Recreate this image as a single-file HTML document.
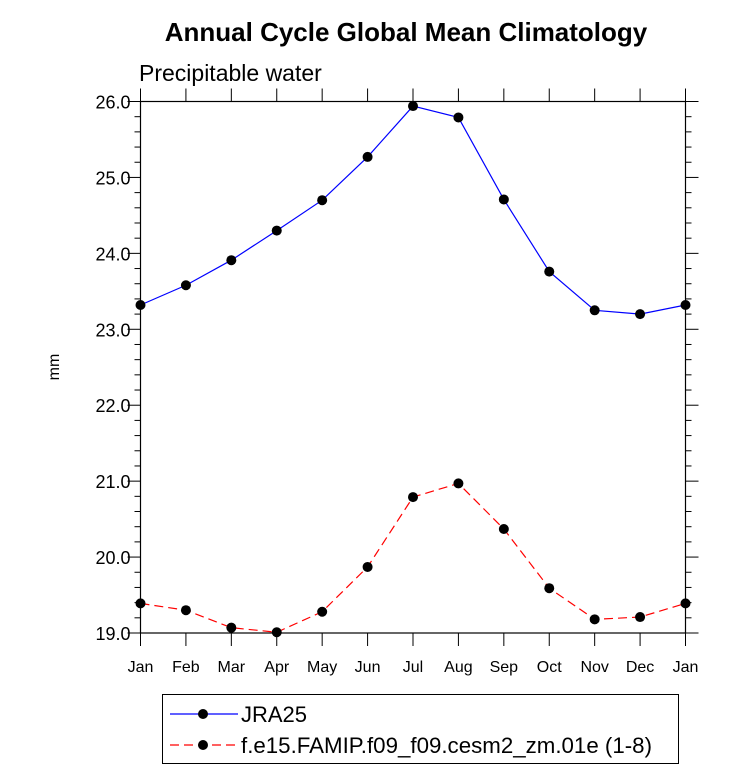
<!DOCTYPE html>
<html><head><meta charset="utf-8"><style>body{margin:0;background:#fff}svg{display:block;font-family:"Liberation Sans",sans-serif}</style></head>
<body>
<svg id="c" width="733" height="771" xmlns="http://www.w3.org/2000/svg">
<text x="406" y="41" text-anchor="middle" font-size="26" font-weight="bold">Annual Cycle Global Mean Climatology</text>
<text x="139" y="81" font-size="23">Precipitable water</text>
<text transform="translate(59,367) rotate(-90)" text-anchor="middle" font-size="16">mm</text>
<g id="axes"></g>
<g id="series"></g>
<g>
<rect x="162.5" y="694.5" width="516" height="69" fill="none" stroke="#000"/>
<line x1="170" y1="714" x2="238" y2="714" stroke="#00f" stroke-width="1.2"/>
<circle cx="203" cy="714" r="5" fill="#000"/>
<text x="241" y="722" font-size="22">JRA25</text>
<line x1="170" y1="745" x2="238" y2="745" stroke="#f00" stroke-width="1.2" stroke-dasharray="9,5"/>
<circle cx="203" cy="745" r="5" fill="#000"/>
<text x="241" y="753" font-size="22" textLength="411" lengthAdjust="spacingAndGlyphs">f.e15.FAMIP.f09_f09.cesm2_zm.01e (1-8)</text>
</g>
</svg>
<script>
const months=["Jan","Feb","Mar","Apr","May","Jun","Jul","Aug","Sep","Oct","Nov","Dec","Jan"];
const jra25=[23.32,23.58,23.91,24.30,24.70,25.27,25.94,25.79,24.71,23.76,23.25,23.20,23.32];
const model=[19.39,19.30,19.07,19.01,19.28,19.87,20.79,20.97,20.37,19.59,19.18,19.21,19.39];
const yTicks=[19,20,21,22,23,24,25,26];
const NS="http://www.w3.org/2000/svg";
const L=140.5,R=685.5,T=101.5,B=633;
const ymin=19,ymax=26;
const xs=i=>L+(R-L)*i/(months.length-1);
const ys=v=>B-(B-T)*(v-ymin)/(ymax-ymin);
function mk(p,t,a){const e=document.createElementNS(NS,t);for(const k in a)e.setAttribute(k,a[k]);p.appendChild(e);return e;}
const ax=document.getElementById('axes');
const fr=mk(ax,'rect',{x:L,y:T,width:R-L,height:B-T,fill:'none',stroke:'#000','stroke-width':1.2});


months.forEach((m,i)=>{const x=xs(i);
 mk(ax,'line',{x1:x,x2:x,y1:B,y2:B+13,stroke:'#000'});
 mk(ax,'line',{x1:x,x2:x,y1:T,y2:T-13,stroke:'#000'});
 const t=mk(ax,'text',{x:x,y:B+39,'text-anchor':'middle','font-size':16});t.textContent=m;
 
 
});
for(let v=ymin;v<=ymax+1e-9;v+=0.2){const y=ys(v);const maj=Math.abs(v-Math.round(v))<1e-6;const len=maj?13:6;
 mk(ax,'line',{x1:L,x2:L-len,y1:y,y2:y,stroke:'#000'});
 mk(ax,'line',{x1:R,x2:R+len,y1:y,y2:y,stroke:'#000'});}
yTicks.forEach(v=>{const t=mk(ax,'text',{x:L-10,y:ys(v)+7,'text-anchor':'end','font-size':18});t.textContent=v.toFixed(1);
 
 });
const sg=document.getElementById('series');
function draw(data,color,dash,name){
 const pl=mk(sg,'polyline',{points:data.map((v,i)=>xs(i)+','+ys(v)).join(' '),fill:'none',stroke:color,'stroke-width':1.2,'stroke-dasharray':dash});
 
 
 data.forEach((v,i)=>{const c=mk(sg,'circle',{cx:xs(i),cy:ys(v),r:5,fill:'#000'});
  
  });
}
draw(jra25,'#00f','none','jra25');
draw(model,'#f00','9,5','model');
</script>
</body></html>
